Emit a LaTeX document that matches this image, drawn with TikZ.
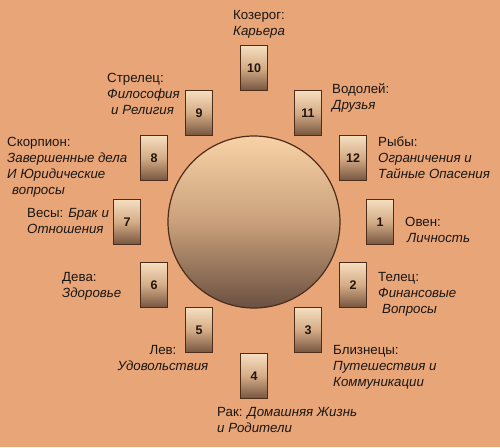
\documentclass[tikz,border=0pt]{standalone}
\usepackage{fontspec}
\setmainfont{Liberation Sans}
\definecolor{bg}{HTML}{E8A578}
\definecolor{boxtop}{HTML}{F6DEC0}
\definecolor{boxmid}{HTML}{D4AC86}
\definecolor{boxbot}{HTML}{765540}
\definecolor{boxline}{HTML}{4E2C1A}
\definecolor{circtop}{HTML}{F8D2A6}
\definecolor{circmid}{HTML}{C9A07B}
\definecolor{circbot}{HTML}{6A5041}
\definecolor{numtext}{HTML}{22160E}
\definecolor{labeltext}{HTML}{1A1614}

\begin{document}
\begin{tikzpicture}[x=1pt,y=-1pt,
  house/.style={draw=boxline,line width=1.4pt,top color=boxtop,bottom color=boxbot,middle color=boxmid,
    minimum width=27pt,minimum height=45pt,inner sep=0pt,font=\bfseries\fontsize{12.5}{12.5}\selectfont,text=numtext},
  sign/.style={anchor=north west,align=left,inner sep=0pt,font=\fontsize{13.3}{16}\selectfont,text=labeltext}]
\fill[bg] (0,0) rectangle (500,447);
\useasboundingbox (0,0) rectangle (500,447);
\node[circle,draw=boxline,line width=1.2pt,minimum size=172pt,top color=circtop,bottom color=circbot,middle color=circmid] (wheel) at (254,222) {};
% houses
\node[house] (h10) at (254,68) {10};
\node[house] (h11) at (308,113) {11};
\node[house] (h12) at (353,158) {12};
\node[house] (h1) at (380,222) {1};
\node[house] (h2) at (353,285) {2};
\node[house] (h3) at (308,330) {3};
\node[house] (h4) at (254,376) {4};
\node[house] (h5) at (199,330) {5};
\node[house] (h6) at (154,285) {6};
\node[house] (h7) at (127,222) {7};
\node[house] (h8) at (154,158) {8};
\node[house] (h9) at (199,113) {9};
% signs
\node[sign] (l10) at (233,10) {Козерог:\\\textit{Карьера}};
\node[sign] (l11) at (332,83) {Водолей:\\\textit{Друзья}};
\node[sign] (l12) at (378,137) {Рыбы:\\\textit{Ограничения и}\\\textit{Тайные Опасения}};
\node[sign] (l1) at (405,217) {Овен:\\\hspace*{2pt}\textit{Личность}};
\node[sign] (l2) at (378,272) {Телец:\\\textit{Финансовые}\\\hspace*{4pt}\textit{Вопросы}};
\node[sign] (l3) at (333,345) {Близнецы:\\\textit{Путешествия и}\\\textit{Коммуникации}};
\node[sign] (l4) at (217,407) {Рак: \textit{Домашняя Жизнь}\\\textit{и Родители}};
\node[sign,align=center,anchor=north] (l5) at (163,345) {Лев:\\\textit{Удовольствия}};
\node[sign] (l6) at (62,272) {Дева:\\\textit{Здоровье}};
\node[sign] (l7) at (27,208) {Весы: \textit{Брак и}\\\textit{Отношения}};
\node[sign] (l8) at (7,137) {Скорпион:\\\textit{Завершенные дела}\\\textit{И Юридические}\\\hspace*{5pt}\textit{вопросы}};
\node[sign] (l9) at (107,73) {Стрелец:\\\textit{Философия}\\\hspace*{4pt}\textit{и Религия}};
\end{tikzpicture}
\end{document}
